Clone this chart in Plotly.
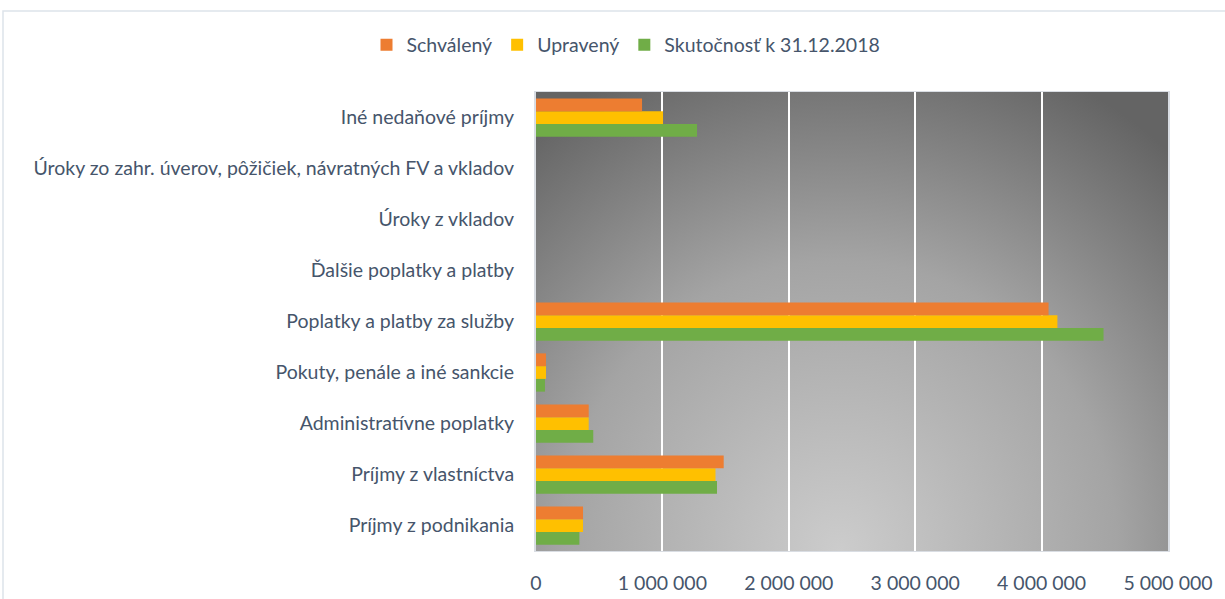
import base64
import plotly.graph_objects as go

categories = [
    "Príjmy z podnikania",
    "Príjmy z vlastníctva",
    "Administratívne poplatky",
    "Pokuty, penále a iné sankcie",
    "Poplatky a platby za služby",
    "Ďalšie poplatky a platby",
    "Úroky z vkladov",
    "Úroky zo zahr. úverov, pôžičiek, návratných FV a vkladov",
    "Iné nedaňové príjmy",
]
schvaleny = [372000, 1485000, 417000, 79000, 4055000, 0, 0, 0, 839000]
upraveny = [372000, 1420000, 417000, 79000, 4125000, 0, 0, 0, 1005000]
skutocnost = [343000, 1432000, 453000, 71000, 4490000, 0, 0, 0, 1274000]
x_ticks = [0, 1000000, 2000000, 3000000, 4000000, 5000000]

W, H = 1225, 599
L, R, T, B = 536, 57, 92, 48
PW, PH = W - L - R, H - T - B


def px_x(v):
    return (v - L) / PW


def px_y(v):
    return 1 + (T - v) / PH


font_family = "Lato, 'Open Sans', sans-serif"
text_color = "#46556b"
fs = 19.5

fig = go.Figure()
fig.add_trace(go.Bar(y=categories, x=skutocnost, orientation="h",
                     name="Skutočnosť k 31.12.2018",
                     marker=dict(color="#70ad47", line=dict(width=0))))
fig.add_trace(go.Bar(y=categories, x=upraveny, orientation="h", name="Upravený",
                     marker=dict(color="#ffc000", line=dict(width=0))))
fig.add_trace(go.Bar(y=categories, x=schvaleny, orientation="h", name="Schválený",
                     marker=dict(color="#ed7d31", line=dict(width=0))))

svg = (
    '<svg xmlns="http://www.w3.org/2000/svg" width="632" height="459" '
    'viewBox="0 0 100 100" preserveAspectRatio="none">'
    '<defs><radialGradient id="g" gradientUnits="userSpaceOnUse" cx="48" cy="100" r="100" '
    'gradientTransform="translate(48 100) scale(0.8 1.15) translate(-48 -100)">'
    '<stop offset="0" stop-color="#cccccc"/>'
    '<stop offset="0.55" stop-color="#a4a4a4"/>'
    '<stop offset="1" stop-color="#646464"/>'
    '</radialGradient></defs>'
    '<rect x="0" y="0" width="100" height="100" fill="url(#g)"/></svg>'
)
svg_uri = "data:image/svg+xml;base64," + base64.b64encode(svg.encode()).decode()

fig.update_layout(
    width=W, height=H,
    margin=dict(l=L, r=R, t=T, b=B, autoexpand=False),
    paper_bgcolor="white",
    plot_bgcolor="rgba(0,0,0,0)",
    barmode="group",
    bargap=0.25,
    bargroupgap=0,
    separators=", ",
    font=dict(family=font_family, size=fs, color=text_color),
    legend=dict(orientation="h", x=px_x(626), y=px_y(45), xanchor="center", yanchor="middle",
                traceorder="reversed", font=dict(size=fs, color=text_color),
                itemwidth=30, bgcolor="rgba(0,0,0,0)"),
    xaxis=dict(range=[0, 5000000], tickvals=x_ticks, tickformat=",.0f",
               showgrid=True, gridcolor="white", gridwidth=2, zeroline=False,
               showline=True, linecolor="#d9dde3", linewidth=1, mirror=True,
               ticks="", ticklabelstandoff=15, automargin=False,
               tickfont=dict(size=fs, color=text_color)),
    yaxis=dict(categoryorder="array", categoryarray=categories, showgrid=False,
               showline=True, linecolor="#d9dde3", linewidth=2, mirror=True,
               ticks="", ticklabelstandoff=16, automargin=False,
               tickfont=dict(size=fs, color=text_color)),
    images=[dict(source=svg_uri, xref="x domain", yref="y domain", x=0, y=1,
                 sizex=1, sizey=1, xanchor="left", yanchor="top",
                 sizing="stretch", layer="below")],
    shapes=[dict(type="rect", xref="paper", yref="paper",
                 x0=px_x(3), x1=px_x(1240), y0=px_y(610), y1=px_y(11),
                 line=dict(color="#dde3ea", width=1.5), fillcolor="rgba(0,0,0,0)",
                 layer="below")],
)

fig.write_html("out.html", config={"responsive": False, "displayModeBar": False},
               post_script="document.body.style.margin='0';document.body.style.padding='0';")
